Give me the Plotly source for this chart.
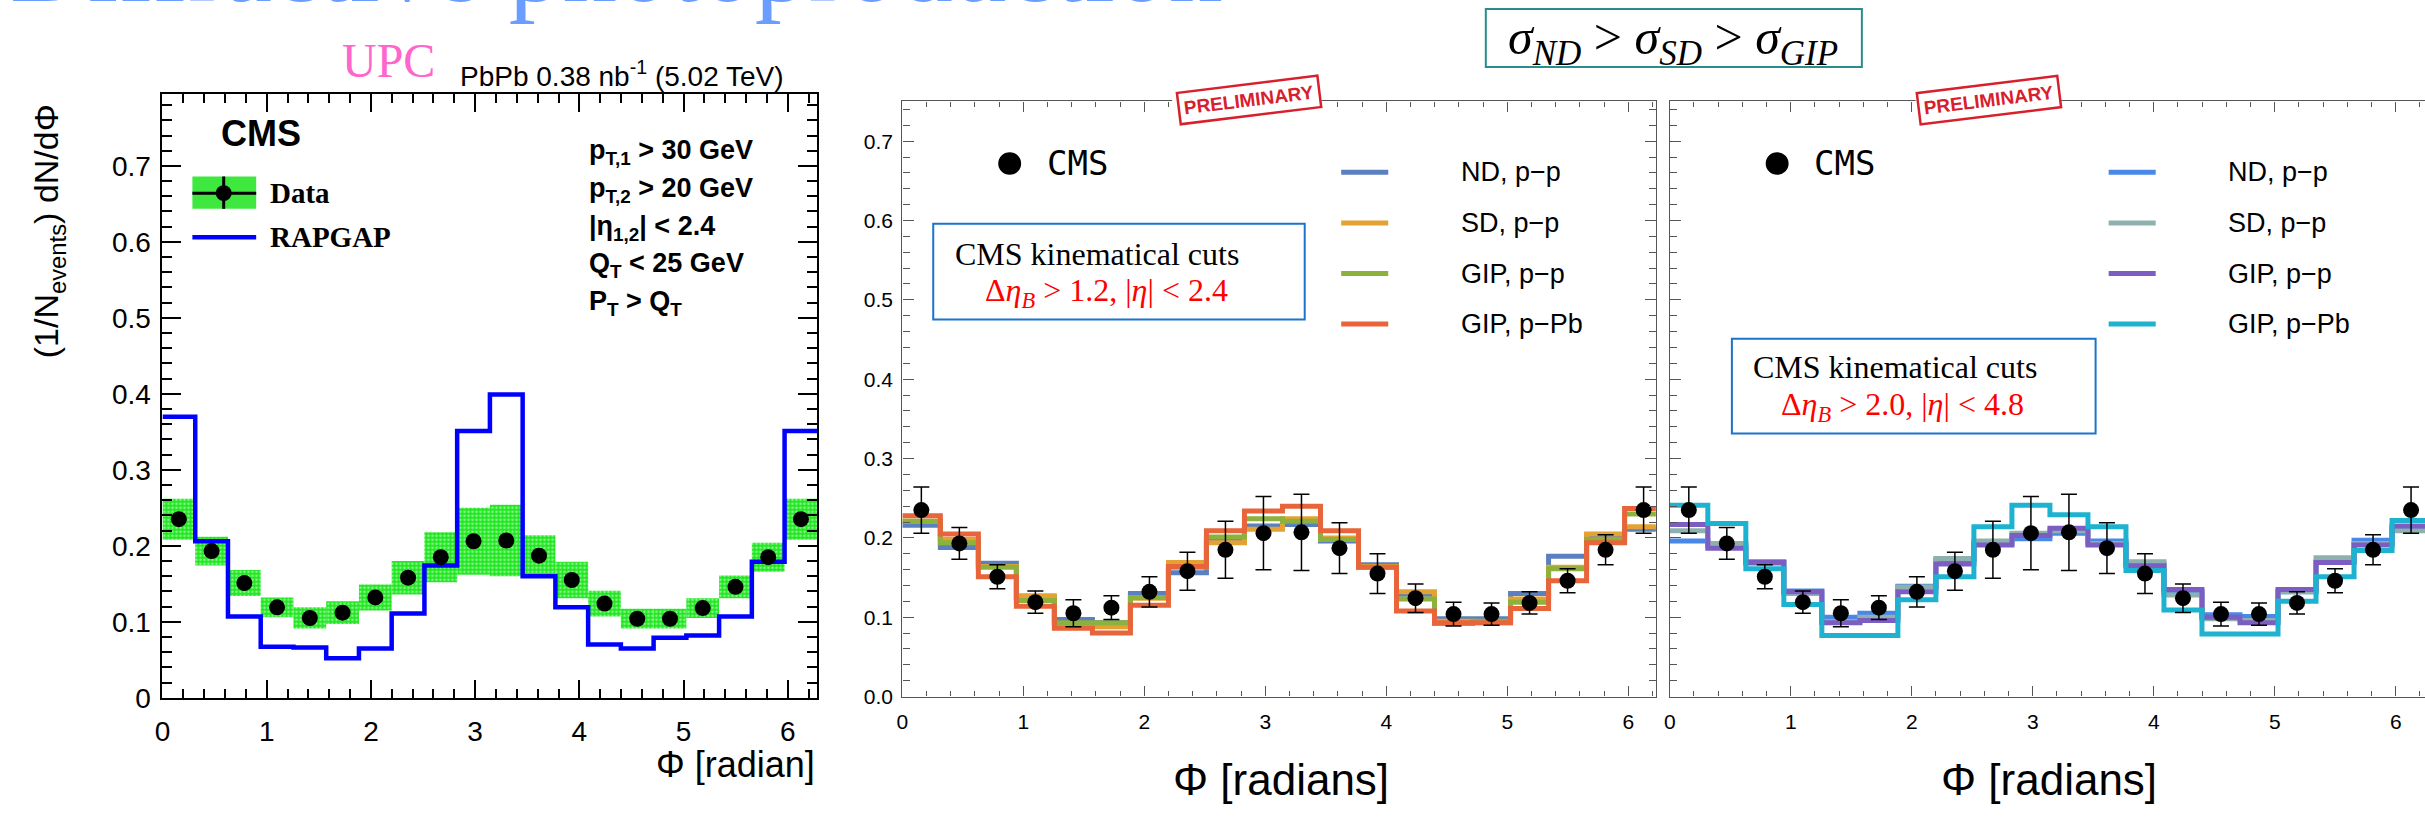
import math
import plotly.graph_objects as go

# ---------------------------------------------------------------- data
PHI_MAX = 2 * math.pi
N_BINS = 20
bin_w = PHI_MAX / N_BINS
edges = [i * bin_w for i in range(N_BINS + 1)]
centers = [(i + 0.5) * bin_w for i in range(N_BINS)]

# CMS measurement (same points in all three panels)
cms_vals = [0.235, 0.193, 0.151, 0.119, 0.105, 0.112, 0.132, 0.158, 0.185, 0.206,
            0.207, 0.187, 0.155, 0.124, 0.104, 0.104, 0.118, 0.146, 0.185, 0.235]
cms_syst = [0.027, 0.019, 0.017, 0.013, 0.014, 0.015, 0.017, 0.022, 0.033, 0.044,
            0.047, 0.027, 0.024, 0.017, 0.013, 0.013, 0.013, 0.015, 0.019, 0.027]
cms_err = [0.029, 0.020, 0.015, 0.014, 0.017, 0.015, 0.019, 0.024, 0.036, 0.046,
           0.048, 0.032, 0.025, 0.018, 0.015, 0.014, 0.014, 0.015, 0.019, 0.029]

# RAPGAP prediction
rapgap = [0.370, 0.206, 0.107, 0.067, 0.066, 0.052, 0.065, 0.111, 0.174, 0.351,
          0.399, 0.160, 0.119, 0.070, 0.065, 0.079, 0.082, 0.107, 0.179, 0.351]

# Model predictions, cuts  d_eta_B > 1.2, |eta| < 2.4
nd_a = [0.216, 0.188, 0.168, 0.125, 0.097, 0.093, 0.130, 0.156, 0.196, 0.215,
        0.217, 0.196, 0.166, 0.129, 0.098, 0.098, 0.130, 0.177, 0.203, 0.211]
sd_a = [0.221, 0.198, 0.164, 0.127, 0.092, 0.088, 0.124, 0.169, 0.194, 0.211,
        0.224, 0.200, 0.164, 0.132, 0.095, 0.093, 0.123, 0.163, 0.205, 0.214]
gpp_a = [0.221, 0.194, 0.163, 0.121, 0.093, 0.093, 0.125, 0.163, 0.201, 0.224,
         0.221, 0.198, 0.163, 0.123, 0.092, 0.095, 0.119, 0.161, 0.198, 0.230]
gpb_a = [0.228, 0.205, 0.151, 0.114, 0.086, 0.080, 0.115, 0.164, 0.209, 0.234,
         0.240, 0.209, 0.163, 0.108, 0.093, 0.093, 0.111, 0.146, 0.194, 0.237]

# Model predictions, cuts  d_eta_B > 2.0, |eta| < 4.8
nd_b = [0.196, 0.191, 0.170, 0.133, 0.100, 0.105, 0.139, 0.172, 0.193, 0.199,
        0.206, 0.196, 0.167, 0.132, 0.103, 0.101, 0.132, 0.170, 0.197, 0.212]
sd_b = [0.209, 0.193, 0.168, 0.130, 0.094, 0.100, 0.138, 0.174, 0.196, 0.206,
        0.209, 0.193, 0.170, 0.128, 0.098, 0.096, 0.132, 0.175, 0.193, 0.209]
gpp_b = [0.217, 0.187, 0.169, 0.132, 0.093, 0.096, 0.132, 0.167, 0.191, 0.203,
         0.212, 0.191, 0.165, 0.135, 0.100, 0.093, 0.135, 0.169, 0.191, 0.215]
gpb_b = [0.241, 0.218, 0.161, 0.116, 0.077, 0.077, 0.122, 0.151, 0.214, 0.241,
         0.229, 0.214, 0.159, 0.109, 0.079, 0.079, 0.120, 0.151, 0.184, 0.222]

model_names = ["ND, p\u2212p", "SD, p\u2212p", "GIP, p\u2212p", "GIP, p\u2212Pb"]
colors_a = ["#5b80bf", "#e3a232", "#8cb13c", "#e8643a"]
colors_b = ["#4a88e8", "#8fb1ae", "#7c5ec2", "#1db2d0"]

# ---------------------------------------------------------------- geometry
W, H = 2425, 817
SANS = "Liberation Sans, Arial, sans-serif"
SERIF = "Liberation Serif, Times New Roman, serif"
MONO = "DejaVu Sans Mono, monospace"


def px(x):
    return x / W


def py(y):
    return 1 - y / H


def step(vals):
    return edges[:], list(vals) + [vals[-1]]


fig = go.Figure()

# ---------------------------------------------------------------- left panel (ROOT style)
fig.add_trace(go.Bar(
    x=centers, y=[2 * s for s in cms_syst], base=[v - s for v, s in zip(cms_vals, cms_syst)],
    width=bin_w, marker=dict(color="#1ee61e", line=dict(width=0),
                             pattern=dict(shape=".", fgcolor="white", size=4, solidity=0.35)),
    xaxis="x", yaxis="y", showlegend=False, hoverinfo="skip"))
sx, sy = step(rapgap)
fig.add_trace(go.Scatter(x=sx, y=sy, mode="lines", line=dict(shape="hv", color="#0000ff", width=4.5),
                         xaxis="x", yaxis="y", showlegend=False))
fig.add_trace(go.Scatter(x=centers, y=cms_vals, mode="markers",
                         marker=dict(color="black", size=16), xaxis="x", yaxis="y", showlegend=False))

# ---------------------------------------------------------------- middle and right panels
for (models, cols, xa, ya) in [((nd_a, sd_a, gpp_a, gpb_a), colors_a, "x2", "y2"),
                               ((nd_b, sd_b, gpp_b, gpb_b), colors_b, "x3", "y3")]:
    for vals, col, name in zip(models, cols, model_names):
        sx, sy = step(vals)
        fig.add_trace(go.Scatter(x=sx, y=sy, mode="lines", name=name,
                                 line=dict(shape="hv", color=col, width=5),
                                 xaxis=xa, yaxis=ya, showlegend=False))
    fig.add_trace(go.Scatter(x=centers, y=cms_vals, mode="markers",
                             marker=dict(color="black", size=16),
                             error_y=dict(type="data", array=cms_err, color="black",
                                          thickness=1.5, width=8),
                             xaxis=xa, yaxis=ya, showlegend=False))

# ---------------------------------------------------------------- axes
L_X0, L_X1, L_Y0, L_Y1 = 155, 812, 711.7, 95.6
M_X0, M_X1, M_Y0, M_Y1 = 897.3, 1653.3, 710.5, 103.5
R_X0 = 1667.3
UNIT = 121.4

root_common = dict(showline=True, linecolor="black", linewidth=2, mirror="ticks",
                   ticks="inside", tickcolor="black", tickwidth=2, showgrid=False,
                   zeroline=False, tickfont=dict(family=SANS, size=28, color="black"))
fig.update_layout(
    xaxis=dict(domain=[px(L_X0), px(L_X1)], range=[0, PHI_MAX], anchor="y",
               dtick=1, tick0=0, ticklen=18, ticklabelstandoff=8,
               minor=dict(ticks="inside", dtick=0.2, ticklen=9, tickwidth=2, tickcolor="black"),
               **root_common),
    yaxis=dict(domain=[py(L_Y0), py(L_Y1)], range=[0, 0.795], anchor="x",
               dtick=0.1, tick0=0, ticklen=19, ticklabelstandoff=4,
               minor=dict(ticks="inside", dtick=0.02, ticklen=10, tickwidth=2, tickcolor="black"),
               **root_common),
)

mm_common = dict(showline=True, linecolor="#555555", linewidth=1.4,
                 ticks="inside", tickcolor="#555555", tickwidth=1.2, showgrid=False,
                 zeroline=False, tickfont=dict(family=SANS, size=21, color="black"))
fig.update_layout(
    xaxis2=dict(domain=[px(M_X0), px(M_X1)], range=[0, (M_X1 - M_X0) / UNIT], anchor="y2",
                dtick=1, tick0=0, ticklen=10, mirror="ticks", ticklabelstandoff=6,
                minor=dict(ticks="inside", dtick=0.2, ticklen=5, tickcolor="#555555"),
                **mm_common),
    yaxis2=dict(domain=[py(M_Y0), py(M_Y1)], range=[0, 0.75], anchor="x2",
                dtick=0.1, tick0=0, ticklen=11, tickformat=".1f", mirror="ticks",
                ticklabelstandoff=4,
                minor=dict(ticks="inside", dtick=0.02, ticklen=7, tickcolor="#555555"),
                **mm_common),
    xaxis3=dict(domain=[px(R_X0), 1.0], range=[0, (W - R_X0) / UNIT], anchor="y3",
                dtick=1, tick0=0, ticklen=10, mirror="ticks", ticklabelstandoff=6,
                minor=dict(ticks="inside", dtick=0.2, ticklen=5, tickcolor="#555555"),
                **mm_common),
    yaxis3=dict(domain=[py(M_Y0), py(M_Y1)], range=[0, 0.75], anchor="x3",
                dtick=0.1, tick0=0, ticklen=11, showticklabels=False, mirror=False,
                minor=dict(ticks="inside", dtick=0.02, ticklen=7, tickcolor="#555555"),
                **mm_common),
)

# ---------------------------------------------------------------- decorations
shapes = []
annotations = []


def text(s, x, y, size, family=SANS, color="black", xanchor="left", **kw):
    annotations.append(dict(text=s, x=px(x), y=py(y), xref="paper", yref="paper",
                            xanchor=xanchor, yanchor="middle", showarrow=False,
                            font=dict(size=size, family=family, color=color), **kw))


def rect(x0, y0, x1, y1, **kw):
    shapes.append(dict(type="rect", xref="paper", yref="paper",
                       x0=px(x0), x1=px(x1), y0=py(y1), y1=py(y0), **kw))


def hline(x0, x1, y, color, width):
    shapes.append(dict(type="line", xref="paper", yref="paper",
                       x0=px(x0), x1=px(x1), y0=py(y), y1=py(y),
                       line=dict(color=color, width=width)))


def dot(x, y, d):
    shapes.append(dict(type="circle", xref="paper", yref="paper",
                       x0=px(x - d / 2), x1=px(x + d / 2), y0=py(y + d / 2), y1=py(y - d / 2),
                       fillcolor="black", line=dict(width=0)))


# slide title (runs off the top edge)
text("Diffractive photoproduction", 0, 0 - 0.3375 * 108, 108, SERIF, "#6b9cff")

# left panel labels
text("UPC", 333, 78 - 0.34 * 48, 48, SERIF, "#ff66cc")
text("PbPb 0.38 nb<sup>-1</sup> (5.02 TeV)", 451, 75, 28)
text("<b>CMS</b>", 212, 136, 36)
rect(185, 180, 249, 213, fillcolor="#3fe83f", line=dict(width=0))
hline(185, 249, 197, "black", 3)
shapes.append(dict(type="line", xref="paper", yref="paper", x0=px(216.4), x1=px(216.4),
                   y0=py(213), y1=py(180), line=dict(color="black", width=3)))
dot(216.4, 197, 16)
text("<b>Data</b>", 261, 197, 29, SERIF)
hline(185, 249, 242, "#0000ff", 4.5)
text("<b>RAPGAP</b>", 261, 242, 29, SERIF)
cut_lines = ["<b>p<sub>T,1</sub> > 30 GeV</b>", "<b>p<sub>T,2</sub> > 20 GeV</b>",
             "<b>|η<sub>1,2</sub>| < 2.4</b>", "<b>Q<sub>T</sub> < 25 GeV</b>",
             "<b>P<sub>T</sub> > Q<sub>T</sub></b>"]
for s, yc in zip(cut_lines, [155, 194, 233, 270, 309]):
    text(s, 581, yc, 27)
text("(1/N<sub>events</sub>) dN/dΦ", 41, 236, 34, xanchor="center", textangle=-90)
text("Φ [radian]", 812, 780, 36, xanchor="right")

# middle / right panels
for x0 in (M_X0, R_X0):
    dot(x0 + 107.7, 166.7, 23)
    text("CMS", x0 + 142.7, 166, 34, MONO)
    for name, yc in zip(model_names, [175.8, 227.5, 279.0, 330.5]):
        text(name, x0 + 558.5, yc, 27)
    text("Φ [radians]", x0 + 380, 795, 44, xanchor="center")
for cols, x0 in ((colors_a, M_X0), (colors_b, R_X0)):
    for col, yc in zip(cols, [175.8, 227.5, 279.0, 330.5]):
        hline(x0 + 440.3, x0 + 487.5, yc, col, 5)

# kinematic cut boxes
rect(928.3, 228.3, 1301, 326, line=dict(color="#1a74cc", width=2))
text("CMS kinematical cuts", 948.5, 259, 32, SERIF)
text("Δ<i>η</i><sub><i>B</i></sub> > 1.2, |<i>η</i>| < 2.4", 978.7, 298, 32, SERIF, "#ff0000")
rect(1729.6, 345.4, 2094.5, 442.1, line=dict(color="#1a74cc", width=2))
text("CMS kinematical cuts", 1749, 374.5, 32, SERIF)
text("Δ<i>η</i><sub><i>B</i></sub> > 2.0, |<i>η</i>| < 4.8", 1777, 414.5, 32, SERIF, "#ff0000")

# cross-section ordering box
rect(1482.7, 9.3, 1860, 68.3, line=dict(color="#2a8c8c", width=2))
text("<i>σ</i><sub><i>ND</i></sub> > <i>σ</i><sub><i>SD</i></sub> > <i>σ</i><sub><i>GIP</i></sub>",
     1671, 42, 50, SERIF, xanchor="center")

# "PRELIMINARY" stamps sitting on the top frame
for xl, xr, xc, yc in ((1168, 1318, 1245, 101.5), (1914, 2060, 1988, 102.5)):
    rect(xl, 96, xr, 120, fillcolor="white", line=dict(width=0), layer="above")
    annotations.append(dict(text="<b>PRELIMINARY</b>", x=px(xc), y=py(yc), xref="paper",
                            yref="paper", xanchor="center", yanchor="middle", showarrow=False,
                            textangle=-7, bordercolor="#d8202c", borderwidth=2.5, borderpad=4,
                            bgcolor="white",
                            font=dict(size=19, family=SANS, color="#d8202c")))

fig.update_layout(
    width=W, height=H, margin=dict(l=0, r=0, t=0, b=0),
    paper_bgcolor="white", plot_bgcolor="white",
    barmode="overlay", shapes=shapes, annotations=annotations,
)

fig.write_html("out.html")
